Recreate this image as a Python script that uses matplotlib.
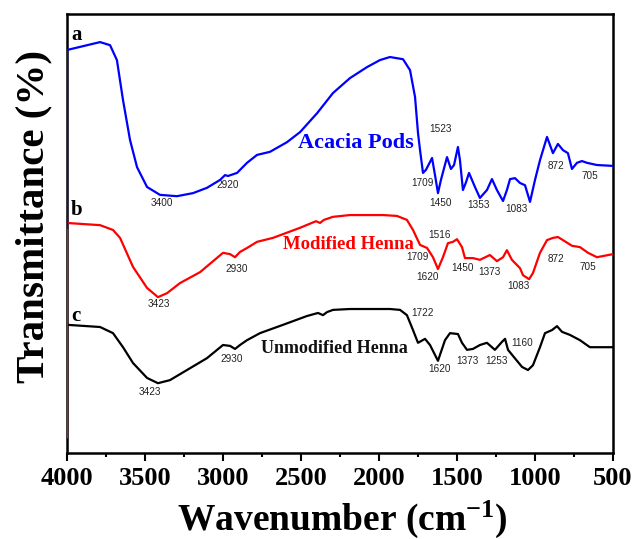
import matplotlib
matplotlib.use("Agg")
import matplotlib.pyplot as plt
from matplotlib.ticker import MultipleLocator

# ---------------- data ----------------
w_acacia = [4000, 4000, 3788, 3724, 3680, 3641, 3596, 3551, 3487, 3404, 3295, 3192, 3103, 3019,
            2987, 2968, 2910, 2846, 2782, 2699, 2590, 2506, 2397, 2295, 2186, 2077, 1994, 1930,
            1846, 1801, 1769, 1750, 1737, 1718, 1699, 1660, 1641, 1622, 1603, 1564, 1539, 1519,
            1494, 1481, 1462, 1442, 1423, 1385, 1353, 1308, 1276, 1244, 1205, 1180, 1160, 1128,
            1096, 1064, 1032, 1000, 968, 923, 885, 853, 821, 789, 763, 731, 699, 667, 603, 500]
t_acacia = [51.3, 91.8, 93.6, 92.9, 89.5, 80.4, 71.3, 65.1, 60.6, 58.8, 58.5, 59.2, 60.4, 62.2,
            63.3, 63.1, 63.8, 66.1, 67.9, 68.6, 70.8, 73.1, 77.4, 82.0, 85.4, 87.9, 89.5, 90.2,
            89.7, 87.2, 81.1, 72.9, 69.0, 63.8, 64.5, 67.2, 63.3, 59.2, 62.2, 67.4, 64.7, 65.6,
            69.7, 66.7, 59.9, 61.7, 63.8, 60.6, 58.1, 59.9, 62.4, 59.9, 57.4, 59.9, 62.4, 62.6,
            61.5, 61.0, 57.2, 62.2, 66.7, 72.0, 68.3, 70.4, 69.0, 68.3, 64.7, 66.1, 66.5, 66.1,
            65.6, 65.4]

w_modified = [4000, 4000, 3788, 3705, 3660, 3577, 3487, 3417, 3359, 3276, 3147, 3000, 2955, 2923,
              2891, 2846, 2782, 2680, 2506, 2404, 2378, 2353, 2295, 2186, 1974, 1885, 1821, 1782,
              1737, 1692, 1654, 1622, 1590, 1558, 1526, 1500, 1468, 1449, 1398, 1353, 1289, 1244,
              1205, 1180, 1148, 1096, 1077, 1038, 1013, 968, 923, 885, 853, 821, 763, 712, 660,
              603, 500]
t_modified = [3.6, 52.4, 51.9, 50.8, 49.0, 42.4, 37.6, 35.5, 36.4, 38.7, 41.2, 45.6, 45.3, 44.6,
              45.8, 46.7, 48.1, 49.0, 51.3, 52.8, 52.4, 53.1, 53.8, 54.2, 54.2, 54.0, 53.1, 50.8,
              47.4, 46.7, 44.6, 41.9, 44.6, 47.8, 48.1, 48.7, 46.9, 44.4, 44.4, 44.0, 45.1, 43.7,
              44.6, 46.2, 44.0, 42.1, 40.5, 39.6, 41.0, 45.6, 48.5, 49.0, 49.2, 48.5, 47.2, 46.9,
              45.6, 44.6, 45.3]

w_unmodified = [4000, 4000, 3788, 3705, 3641, 3577, 3487, 3417, 3340, 3231, 3103, 3000, 2955, 2923,
                2891, 2846, 2763, 2615, 2462, 2391, 2359, 2333, 2295, 2186, 1930, 1865, 1821, 1782,
                1750, 1705, 1673, 1622, 1577, 1545, 1494, 1468, 1436, 1398, 1353, 1308, 1257, 1212,
                1192, 1173, 1141, 1083, 1045, 1013, 968, 936, 891, 859, 827, 776, 712, 648, 583, 500]
t_unmodified = [0.0, 29.2, 28.7, 27.3, 24.1, 20.5, 17.1, 15.9, 16.6, 18.9, 21.6, 24.6, 24.4, 23.7,
                24.6, 25.7, 27.3, 29.2, 31.2, 31.9, 31.4, 32.1, 32.6, 32.8, 32.8, 32.6, 31.4, 28.0,
                25.1, 26.0, 24.6, 21.0, 25.7, 27.3, 27.1, 25.1, 23.5, 23.7, 24.6, 25.1, 23.5, 25.3,
                26.0, 23.5, 22.1, 19.6, 18.9, 20.0, 24.1, 27.3, 28.0, 28.9, 27.6, 26.9, 25.7, 24.1,
                24.1, 24.1]

# peak annotations: (text, wavenumber position, transmittance position)
peaks_acacia = [("3400", 3391, 56.9), ("2920", 2968, 61.0), ("1523", 1603, 73.8),
                ("1709", 1724, 61.5), ("1450", 1603, 56.9), ("1353", 1359, 56.5),
                ("1083", 1122, 55.6), ("872", 866, 65.4), ("705", 648, 63.1)]
peaks_modified = [("3423", 3410, 33.9), ("2930", 2910, 41.9), ("1516", 1609, 49.7),
                  ("1709", 1756, 44.6), ("1620", 1686, 40.1), ("1450", 1462, 42.1),
                  ("1373", 1295, 41.2), ("1083", 1109, 38.0), ("872", 866, 44.2),
                  ("705", 660, 42.4)]
peaks_unmodified = [("3423", 3468, 13.9), ("2930", 2942, 21.4), ("1722", 1724, 31.9),
                    ("1620", 1615, 19.1), ("1373", 1430, 21.0), ("1253", 1244, 21.0),
                    ("1160", 1083, 25.1)]

series_names = ["Acacia Pods", "Modified Henna", "Unmodified Henna"]
series_letters = ["a", "b", "c"]
xticks = [4000, 3500, 3000, 2500, 2000, 1500, 1000, 500]

# ---------------- figure ----------------
serif = "Liberation Serif"
sans = "Liberation Sans"
plt.rcParams["mathtext.default"] = "regular"

fig = plt.figure(figsize=(6.35, 5.39), dpi=100)
ax = fig.add_axes([67 / 635, 1 - 453 / 539, 546 / 635, 439 / 539])

ax.plot(w_unmodified, t_unmodified, color="black", lw=1.6, zorder=2)
ax.plot(w_modified, t_modified, color="#ff0000", lw=1.6, zorder=3)
ax.plot(w_acacia, t_acacia, color="#0000ff", lw=1.6, zorder=4)

ax.set_xlim(4000, 500)
ax.set_ylim(0, 100)

for lab, x, y in peaks_acacia + peaks_modified + peaks_unmodified:
    ax.text(x, y, lab, fontsize=7.2, family=sans, color="#222222", ha="center", va="center")

ax.text(2148, 70.6, series_names[0], fontsize=16, family=serif, fontweight="bold",
        color="#0000ff", ha="center", va="center")
ax.text(2199, 47.4, series_names[1], fontsize=13.5, family=serif, fontweight="bold",
        color="#ff0000", ha="center", va="center")
ax.text(2289, 23.9, series_names[2], fontsize=13, family=serif, fontweight="bold",
        color="#111111", ha="center", va="center")

for lab, y in zip(series_letters, [95.2, 55.4, 31.2]):
    ax.text(3974, y, lab, fontsize=15, family=serif, fontweight="bold", color="black",
            ha="left", va="center")

ax.set_xticks(xticks)
ax.xaxis.set_minor_locator(MultipleLocator(250))
ax.set_xticklabels([str(t) for t in xticks], fontsize=19, family=serif, fontweight="bold")
ax.set_yticks([])
ax.tick_params(axis="x", which="major", direction="out", length=6, width=1.5, pad=4)
ax.tick_params(axis="x", which="minor", direction="out", length=3, width=1.5)
for s in ax.spines.values():
    s.set_linewidth(1.8)

ax.set_xlabel("Wavenumber (cm$^{-1}$)", fontsize=27, family=serif, fontweight="bold")
ax.xaxis.label.set_va("baseline")
ax.xaxis.set_label_coords(0.505, -0.1745)
ax.set_ylabel("Transmittance (%)", fontsize=29.5, family=serif, fontweight="bold")
ax.yaxis.set_label_coords(-0.027, 0.539)

fig.savefig("out.png", dpi=100)
